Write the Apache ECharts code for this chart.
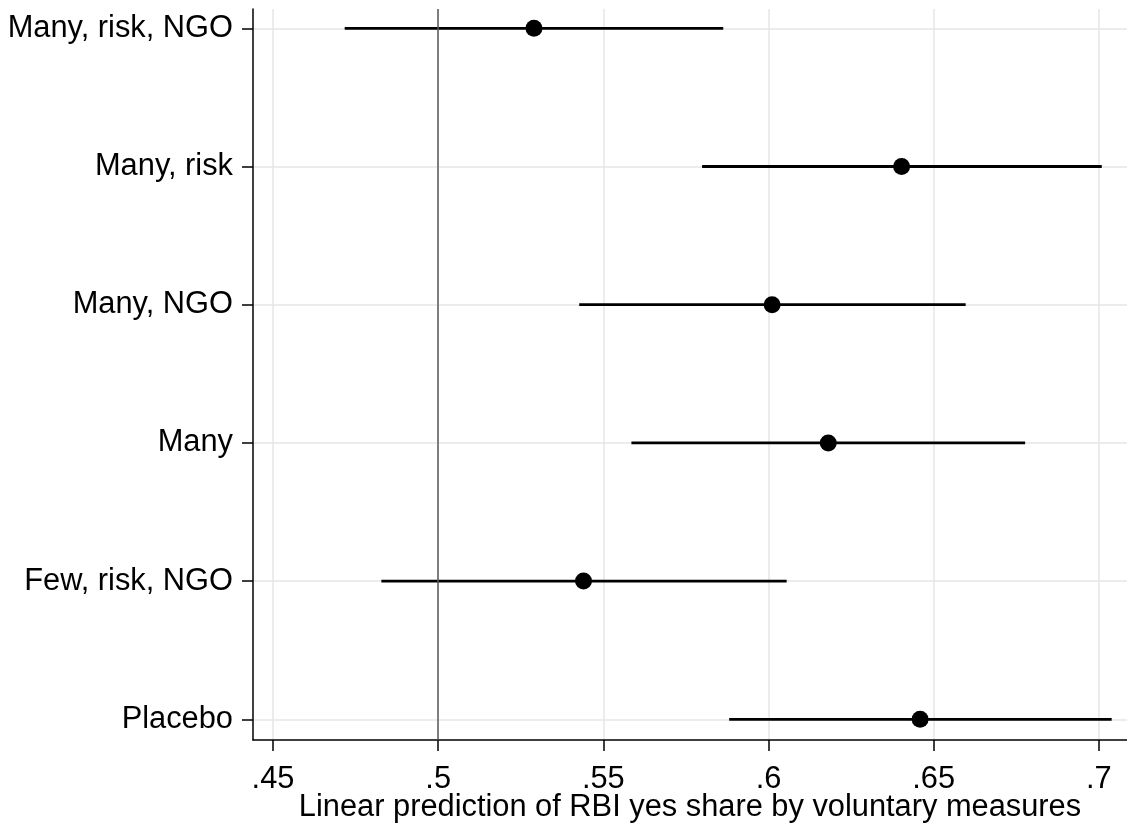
<!DOCTYPE html>
<html>
<head>
<meta charset="utf-8">
<script src="https://cdn.jsdelivr.net/npm/echarts@6/dist/echarts.min.js"></script>
<style>
  html, body { margin: 0; padding: 0; background: #fff; }
  #chart { width: 1127px; height: 824px; }
</style>
</head>
<body>
<div id="chart"></div>
<script>
// Groups, listed bottom to top as drawn on the category axis
const groups = ['Placebo', 'Few, risk, NGO', 'Many', 'Many, NGO', 'Many, risk', 'Many, risk, NGO'];
// Point estimates and 95% confidence bounds
const estimate = [0.6459, 0.5440, 0.6181, 0.6011, 0.6403, 0.5290];
const lower    = [0.5881, 0.4828, 0.5585, 0.5427, 0.5799, 0.4717];
const upper    = [0.7039, 0.6055, 0.6777, 0.6597, 0.7009, 0.5863];
// X-axis tick values and their labels
const xTicks = [0.45, 0.5, 0.55, 0.6, 0.65, 0.7];
const xTickLabels = ['.45', '.5', '.55', '.6', '.65', '.7'];
const refValue = 0.5;
const xTitle = 'Linear prediction of RBI yes share by voluntary measures';

const X_MIN = 0.44394, X_MAX = 0.70854;
const FONT = '"Liberation Sans", Arial, Helvetica, sans-serif';
const FONT_SIZE = 30.8;
const GRID_COLOR = '#e6e6e6';

const chart = echarts.init(document.getElementById('chart'), null, { renderer: 'canvas' });

const ciData = groups.map((g, i) => [lower[i], upper[i], g]);
const ptData = groups.map((g, i) => [estimate[i], g]);

chart.setOption({
  backgroundColor: '#fff',
  animation: false,
  grid: [
    // outer frame: x axis, vertical grid, left axis line
    { left: 253, right: 0, top: 9, bottom: 84, containLabel: false, outerBoundsMode: 'none' },
    // inner band: category rows
    { left: 253, right: 0, top: 28.3, bottom: 104.7, containLabel: false, outerBoundsMode: 'none' }
  ],
  xAxis: [
    {
      type: 'value', gridIndex: 0, min: X_MIN, max: X_MAX,
      axisLine: { show: true, onZero: false, lineStyle: { color: '#000', width: 1.5 } },
      axisTick: { show: true, length: 11, lineStyle: { color: '#000', width: 1.5 }, customValues: xTicks },
      axisLabel: {
        show: true, customValues: xTicks, margin: 24,
        color: '#000', fontSize: FONT_SIZE, fontFamily: FONT,
        formatter: v => {
          const k = xTicks.findIndex(t => Math.abs(t - v) < 1e-9);
          return k >= 0 ? xTickLabels[k] : '';
        }
      },
      splitLine: { show: true, lineStyle: { color: GRID_COLOR, width: 1.5 } },
      name: xTitle, nameLocation: 'middle', nameGap: 52, nameMoveOverlap: false,
      nameTextStyle: { color: '#000', fontSize: FONT_SIZE, fontFamily: FONT }
    },
    {
      type: 'value', gridIndex: 1, min: X_MIN, max: X_MAX, show: false,
      splitLine: { show: false }
    }
  ],
  yAxis: [
    {
      type: 'value', gridIndex: 0, min: 0, max: 1,
      axisLine: { show: true, onZero: false, lineStyle: { color: '#000', width: 1.5 } },
      axisTick: { show: false }, axisLabel: { show: false }, splitLine: { show: false }
    },
    {
      type: 'category', gridIndex: 1, data: groups, boundaryGap: false,
      axisLine: { show: false },
      axisTick: { show: true, length: 11, alignWithLabel: true, lineStyle: { color: '#000', width: 1.5 } },
      axisLabel: { show: true, margin: 20, color: '#000', fontSize: FONT_SIZE, fontFamily: FONT, interval: 0 },
      splitLine: { show: true, interval: 0, lineStyle: { color: GRID_COLOR, width: 1.5 } }
    }
  ],
  series: [
    {
      // reference line at 0.5
      type: 'line', xAxisIndex: 0, yAxisIndex: 0, data: [], silent: true,
      markLine: {
        symbol: 'none', silent: true, label: { show: false },
        lineStyle: { color: '#5a5a5a', width: 1.5, type: 'solid' },
        data: [{ xAxis: refValue }]
      }
    },
    {
      // confidence intervals
      type: 'custom', xAxisIndex: 1, yAxisIndex: 1, data: ciData, z: 3,
      renderItem: (params, api) => {
        const a = api.coord([api.value(0), api.value(2)]);
        const b = api.coord([api.value(1), api.value(2)]);
        return {
          type: 'line',
          shape: { x1: a[0], y1: a[1], x2: b[0], y2: b[1] },
          style: { stroke: '#000', lineWidth: 2.8 }
        };
      },
      encode: { x: [0, 1], y: 2 }
    },
    {
      // point estimates
      type: 'scatter', xAxisIndex: 1, yAxisIndex: 1, data: ptData, z: 4,
      symbol: 'circle', symbolSize: 17,
      itemStyle: { color: '#000', opacity: 1 }
    }
  ]
});
</script>
</body>
</html>
